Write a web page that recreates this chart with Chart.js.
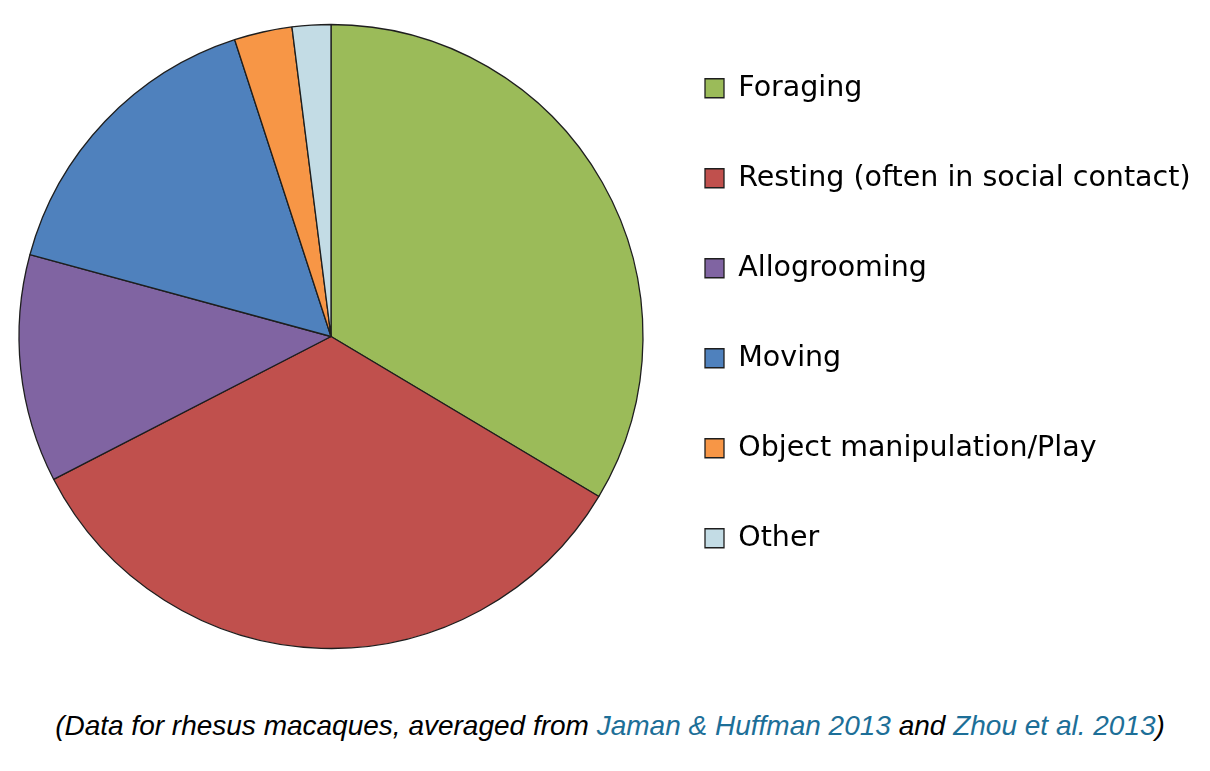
<!DOCTYPE html>
<html>
<head>
<meta charset="utf-8">
<title>Rhesus macaque activity budget</title>
<script src="https://cdn.jsdelivr.net/npm/chart.js@4.4.1/dist/chart.umd.min.js"></script>
<style>
  body { margin: 0; background: #fff; }
  #wrap { position: relative; width: 1210px; height: 771px; }
  #caption {
    position: absolute; left: 5px; top: 710px; width: 1210px;
    text-align: center; font-family: "Liberation Sans", Arial, sans-serif;
    font-style: italic; font-size: 28px; color: #000;
  }
  #caption a { color: #1d6f98; text-decoration: none; }
</style>
</head>
<body>
<div id="wrap">
  <canvas id="activityChart" width="1210" height="672"></canvas>
  <div id="caption">(Data for rhesus macaques, averaged from <a href="#">Jaman &amp; Huffman 2013</a> and <a href="#">Zhou et al. 2013</a>)</div>
</div>
<script>
// activity categories and share of time (%)
const activities = ['Foraging', 'Resting (often in social contact)', 'Allogrooming', 'Moving', 'Object manipulation/Play', 'Other'];
const timeShare = [33.6, 33.9, 11.8, 15.8, 3.0, 2.0];
const sliceColors = ['#9bbb59', '#c0504d', '#8064a2', '#4f81bd', '#f79646', '#c3dce5'];

const legendFont = { family: 'DejaVu Sans', size: 28.5 };
const boxSize = 19;
const itemGap = 61.5;

const ctx = document.getElementById('activityChart').getContext('2d');

// work out how wide the legend will be so the pie lands at the left
ctx.font = legendFont.size + 'px "' + legendFont.family + '"';
const longest = Math.max(...activities.map(t => ctx.measureText(t).width));
const legendWidth = itemGap + boxSize + legendFont.size / 2 + longest + 10;
const legendLeft = 643.5;
const padRight = Math.max(1210 - legendLeft - legendWidth, 0);

const activityChart = new Chart(ctx, {
    type: 'pie',
    data: {
        labels: activities,
        datasets: [{
            data: timeShare,
            backgroundColor: sliceColors,
            borderColor: '#1e1e1e',
            borderWidth: 1.3,
            radius: 312
        }]
    },
    options: {
        responsive: false,
        animation: false,
        devicePixelRatio: 1,
        layout: { padding: { left: 18.5, right: padRight, top: 12.5, bottom: 11.5 } },
        plugins: {
            tooltip: { enabled: false },
            legend: {
                position: 'right',
                align: 'start',
                labels: {
                    boxWidth: boxSize,
                    boxHeight: boxSize,
                    padding: itemGap,
                    color: '#000',
                    font: legendFont
                }
            }
        }
    }
});
</script>
</body>
</html>
